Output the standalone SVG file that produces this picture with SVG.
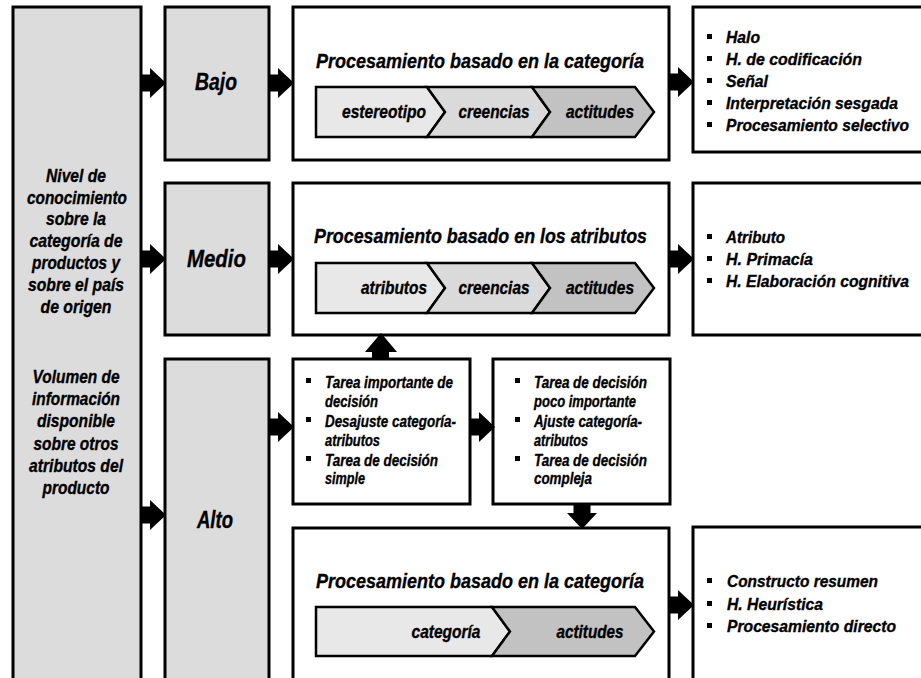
<svg xmlns="http://www.w3.org/2000/svg" width="921" height="678" viewBox="0 0 921 678">
  <style>
    text { font-family: "Liberation Sans", Arial, sans-serif; font-weight: bold; font-style: italic; fill: #000; stroke: #000; stroke-width: 0.35; }
    .box { fill: #fff; stroke: #000; stroke-width: 3; }
    .gbox { fill: #dcdcdc; stroke: #000; stroke-width: 3; }
    .seg { stroke: #000; stroke-width: 2.5; stroke-linejoin: miter; }
    .s1 { fill: #e8e8e8; }
    .s2 { fill: #dadada; }
    .s3 { fill: #c2c2c2; }
    .arrow { fill: #000; }
    .mid { text-anchor: middle; }
    .lvl { font-size: 24px; }
    .side { font-size: 18px; }
    .title { font-size: 21px; }
    .chev { font-size: 18px; }
    .list { font-size: 17px; }
    .dec { font-size: 16px; }
  </style>
  <defs>
    <!-- block arrow pointing right, origin at the tail centre -->
    <path id="blk" d="M0,-8.5 H10 V-15 L26,0 L10,15 V8.5 H0 Z"/>
    <rect id="sq" x="0" y="0" width="5" height="5"/>
  </defs>

  <!-- left column -->
  <g id="factores">
    <rect class="gbox" x="13" y="7" width="128" height="690"/>
    <text class="side mid" x="76" y="182" textLength="60" lengthAdjust="spacingAndGlyphs">Nivel de</text>
    <text class="side mid" x="77" y="204" textLength="100" lengthAdjust="spacingAndGlyphs">conocimiento</text>
    <text class="side mid" x="76" y="225" textLength="60" lengthAdjust="spacingAndGlyphs">sobre la</text>
    <text class="side mid" x="76" y="247" textLength="93" lengthAdjust="spacingAndGlyphs">categoría de</text>
    <text class="side mid" x="76" y="269" textLength="88" lengthAdjust="spacingAndGlyphs">productos y</text>
    <text class="side mid" x="76" y="291" textLength="96" lengthAdjust="spacingAndGlyphs">sobre el país</text>
    <text class="side mid" x="76" y="313" textLength="71" lengthAdjust="spacingAndGlyphs">de origen</text>
    <text class="side mid" x="76" y="383" textLength="87" lengthAdjust="spacingAndGlyphs">Volumen de</text>
    <text class="side mid" x="76" y="405" textLength="88" lengthAdjust="spacingAndGlyphs">información</text>
    <text class="side mid" x="76" y="427" textLength="78" lengthAdjust="spacingAndGlyphs">disponible</text>
    <text class="side mid" x="76" y="450" textLength="85" lengthAdjust="spacingAndGlyphs">sobre otros</text>
    <text class="side mid" x="76" y="472" textLength="94" lengthAdjust="spacingAndGlyphs">atributos del</text>
    <text class="side mid" x="76" y="494" textLength="67" lengthAdjust="spacingAndGlyphs">producto</text>
  </g>

  <!-- levels -->
  <g id="bajo">
    <rect class="gbox" x="165" y="7" width="104" height="153"/>
    <text class="lvl mid" x="216" y="90" textLength="42" lengthAdjust="spacingAndGlyphs">Bajo</text>
  </g>
  <g id="medio">
    <rect class="gbox" x="165" y="183" width="104" height="152"/>
    <text class="lvl mid" x="216.5" y="267" textLength="59" lengthAdjust="spacingAndGlyphs">Medio</text>
  </g>
  <g id="alto">
    <rect class="gbox" x="165" y="359" width="104" height="340"/>
    <text class="lvl mid" x="215" y="528" textLength="36" lengthAdjust="spacingAndGlyphs">Alto</text>
  </g>

  <!-- processing: category (low) -->
  <g id="proc-categoria-bajo">
    <rect class="box" x="293" y="7" width="376" height="153"/>
    <text class="title mid" x="480" y="68" textLength="328" lengthAdjust="spacingAndGlyphs">Procesamiento basado en la categoría</text>
    <path class="seg s1" d="M316,87 H427 L445,112 L427,137 H316 Z"/>
    <path class="seg s2" d="M427,87 H532 L550,112 L532,137 H427 L445,112 Z"/>
    <path class="seg s3" d="M532,87 H635 L654,112 L635,137 H532 L550,112 Z"/>
    <text class="chev mid" x="384" y="118" textLength="84" lengthAdjust="spacingAndGlyphs">estereotipo</text>
    <text class="chev mid" x="494" y="118" textLength="71" lengthAdjust="spacingAndGlyphs">creencias</text>
    <text class="chev mid" x="600" y="118" textLength="68" lengthAdjust="spacingAndGlyphs">actitudes</text>
  </g>

  <!-- processing: attributes (medium) -->
  <g id="proc-atributos">
    <rect class="box" x="293" y="183" width="376" height="152"/>
    <text class="title mid" x="480.5" y="243" textLength="333" lengthAdjust="spacingAndGlyphs">Procesamiento basado en los atributos</text>
    <path class="seg s1" d="M316,263 H427 L445,288 L427,313 H316 Z"/>
    <path class="seg s2" d="M427,263 H532 L550,288 L532,313 H427 L445,288 Z"/>
    <path class="seg s3" d="M532,263 H635 L654,288 L635,313 H532 L550,288 Z"/>
    <text class="chev mid" x="394" y="294" textLength="66" lengthAdjust="spacingAndGlyphs">atributos</text>
    <text class="chev mid" x="494" y="294" textLength="71" lengthAdjust="spacingAndGlyphs">creencias</text>
    <text class="chev mid" x="600" y="294" textLength="68" lengthAdjust="spacingAndGlyphs">actitudes</text>
  </g>

  <!-- decision conditions -->
  <g id="condiciones-atributos">
    <rect class="box" x="293" y="359" width="177" height="145"/>
    <use href="#sq" x="306" y="378"/>
    <text class="dec" x="325" y="388" textLength="128" lengthAdjust="spacingAndGlyphs">Tarea importante de</text>
    <text class="dec" x="325" y="407" textLength="53" lengthAdjust="spacingAndGlyphs">decisión</text>
    <use href="#sq" x="306" y="417"/>
    <text class="dec" x="325" y="427" textLength="131" lengthAdjust="spacingAndGlyphs">Desajuste categoría-</text>
    <text class="dec" x="325" y="446" textLength="55" lengthAdjust="spacingAndGlyphs">atributos</text>
    <use href="#sq" x="306" y="456"/>
    <text class="dec" x="325" y="466" textLength="113" lengthAdjust="spacingAndGlyphs">Tarea de decisión</text>
    <text class="dec" x="325" y="484" textLength="40" lengthAdjust="spacingAndGlyphs">simple</text>
  </g>
  <g id="condiciones-categoria">
    <rect class="box" x="493" y="359" width="177" height="145"/>
    <use href="#sq" x="515" y="378"/>
    <text class="dec" x="534" y="388" textLength="113" lengthAdjust="spacingAndGlyphs">Tarea de decisión</text>
    <text class="dec" x="534" y="407" textLength="102" lengthAdjust="spacingAndGlyphs">poco importante</text>
    <use href="#sq" x="515" y="417"/>
    <text class="dec" x="534" y="427" textLength="108" lengthAdjust="spacingAndGlyphs">Ajuste categoría-</text>
    <text class="dec" x="534" y="446" textLength="54" lengthAdjust="spacingAndGlyphs">atributos</text>
    <use href="#sq" x="515" y="456"/>
    <text class="dec" x="534" y="466" textLength="113" lengthAdjust="spacingAndGlyphs">Tarea de decisión</text>
    <text class="dec" x="534" y="484" textLength="58" lengthAdjust="spacingAndGlyphs">compleja</text>
  </g>

  <!-- processing: category (high) -->
  <g id="proc-categoria-alto">
    <rect class="box" x="293" y="528" width="376" height="170"/>
    <text class="title mid" x="480" y="588" textLength="328" lengthAdjust="spacingAndGlyphs">Procesamiento basado en la categoría</text>
    <path class="seg s1" d="M316,607 H492 L510,631.5 L492,656 H316 Z"/>
    <path class="seg s3" d="M492,607 H635 L654,631.5 L635,656 H492 L510,631.5 Z"/>
    <text class="chev mid" x="446" y="638" textLength="69" lengthAdjust="spacingAndGlyphs">categoría</text>
    <text class="chev mid" x="590" y="638" textLength="67" lengthAdjust="spacingAndGlyphs">actitudes</text>
  </g>

  <!-- effects (boxes run past the right edge) -->
  <g id="efectos-bajo">
    <rect class="box" x="693" y="7" width="240" height="145"/>
    <use href="#sq" x="707" y="34"/>
    <text class="list" x="726" y="43" textLength="34" lengthAdjust="spacingAndGlyphs">Halo</text>
    <use href="#sq" x="707" y="56"/>
    <text class="list" x="726" y="65" textLength="136" lengthAdjust="spacingAndGlyphs">H. de codificación</text>
    <use href="#sq" x="707" y="78"/>
    <text class="list" x="726" y="87" textLength="42" lengthAdjust="spacingAndGlyphs">Señal</text>
    <use href="#sq" x="707" y="100"/>
    <text class="list" x="726" y="109" textLength="172" lengthAdjust="spacingAndGlyphs">Interpretación sesgada</text>
    <use href="#sq" x="707" y="122"/>
    <text class="list" x="726" y="131" textLength="183" lengthAdjust="spacingAndGlyphs">Procesamiento selectivo</text>
  </g>
  <g id="efectos-medio">
    <rect class="box" x="693" y="183" width="240" height="152"/>
    <use href="#sq" x="707" y="234"/>
    <text class="list" x="726" y="243" textLength="59" lengthAdjust="spacingAndGlyphs">Atributo</text>
    <use href="#sq" x="707" y="256"/>
    <text class="list" x="726" y="265" textLength="87" lengthAdjust="spacingAndGlyphs">H. Primacía</text>
    <use href="#sq" x="707" y="278"/>
    <text class="list" x="726" y="287" textLength="183" lengthAdjust="spacingAndGlyphs">H. Elaboración cognitiva</text>
  </g>
  <g id="efectos-alto">
    <rect class="box" x="693" y="527" width="240" height="170"/>
    <use href="#sq" x="707" y="578"/>
    <text class="list" x="727" y="587" textLength="151" lengthAdjust="spacingAndGlyphs">Constructo resumen</text>
    <use href="#sq" x="707" y="601"/>
    <text class="list" x="727" y="610" textLength="96" lengthAdjust="spacingAndGlyphs">H. Heurística</text>
    <use href="#sq" x="707" y="623"/>
    <text class="list" x="727" y="632" textLength="169" lengthAdjust="spacingAndGlyphs">Procesamiento directo</text>
  </g>

  <!-- connectors -->
  <g id="connectors" class="arrow">
    <use href="#blk" transform="translate(140,83)"/>
    <use href="#blk" transform="translate(140,259)"/>
    <use href="#blk" transform="translate(140,515)"/>
    <use href="#blk" transform="translate(268,83)"/>
    <use href="#blk" transform="translate(268,259)"/>
    <use href="#blk" transform="translate(268,427)"/>
    <use href="#blk" transform="translate(668,82)"/>
    <use href="#blk" transform="translate(668,259)"/>
    <use href="#blk" transform="translate(668,605)"/>
    <use href="#blk" transform="translate(469,427)"/>
    <path d="M372,359 V352 H365 L381,333 L397,352 H389 V359 Z"/>
    <use href="#blk" transform="translate(582,503) rotate(90)"/>
  </g>
</svg>
